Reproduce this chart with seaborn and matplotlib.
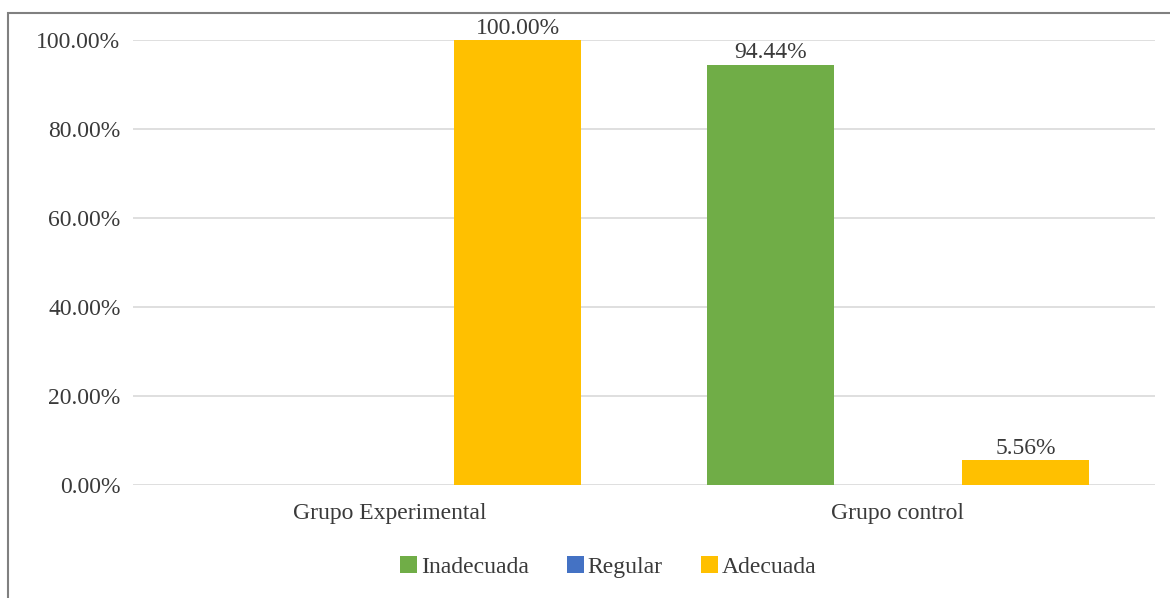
import pandas as pd
import matplotlib.pyplot as plt
import seaborn as sns
from matplotlib.patches import Rectangle

# Data
grupos = ["Grupo Experimental", "Grupo control"]
niveles = ["Inadecuada", "Regular", "Adecuada"]
inadecuada = [0.0, 94.44]
regular = [0.0, 0.0]
adecuada = [100.0, 5.56]
colores = ["#70AD47", "#4472C4", "#FFC000"]

df = pd.DataFrame({
    "grupo": grupos * 3,
    "nivel": [n for n in niveles for _ in grupos],
    "valor": inadecuada + regular + adecuada,
})

sns.set_style("white")
plt.rcParams["font.family"] = ["Liberation Serif", "DejaVu Serif"]

fig = plt.figure(figsize=(11.7, 5.98), dpi=100)
ax = fig.add_axes([133 / 1170, 1 - 485 / 598, (1155 - 133) / 1170, (485 - 40) / 598])

sns.barplot(
    data=df, x="grupo", y="valor", hue="nivel",
    order=grupos, hue_order=niveles,
    palette=colores, width=0.753, gap=0, saturation=1,
    linewidth=0, ax=ax, legend=True
)

for cont in ax.containers:
    labels = [f"{b.get_height():.2f}%" if b.get_height() > 0 else "" for b in cont]
    ax.bar_label(cont, labels=labels, padding=1, fontsize=17, color="#3a3a3a")

ax.set_ylim(0, 100)
ax.set_xlim(-0.506, 1.506)
ax.set_yticks([0, 20, 40, 60, 80, 100])
ax.set_yticklabels([f"{v:.2f}%" for v in [0, 20, 40, 60, 80, 100]])
ax.yaxis.grid(True, color="#D9D9D9", linewidth=1.2)
ax.set_axisbelow(True)
for s in ax.spines.values():
    s.set_visible(False)
ax.tick_params(axis="y", length=0, pad=9, labelsize=17, labelcolor="#3a3a3a")
ax.tick_params(axis="x", length=0, pad=13, labelsize=17, labelcolor="#3a3a3a")
ax.set_xlabel("")
ax.set_ylabel("")

handles, lbls = ax.get_legend_handles_labels()
ax.get_legend().remove()
fig.legend(handles, lbls, loc="center", bbox_to_anchor=(608 / 1170, 1 - 567 / 598),
           ncol=3, frameon=False, fontsize=17, handlelength=0.75, handleheight=0.75,
           handletextpad=0.15, columnspacing=1.6, labelcolor="#3a3a3a")

# outer chart border (cropped at right and bottom)
fig.patches.append(Rectangle((8 / 1170, -0.1), 1.2, 1.1 - 13 / 598,
                             transform=fig.transFigure, fill=False,
                             edgecolor="#808080", linewidth=1.5))

fig.savefig("out.png", dpi=100)
